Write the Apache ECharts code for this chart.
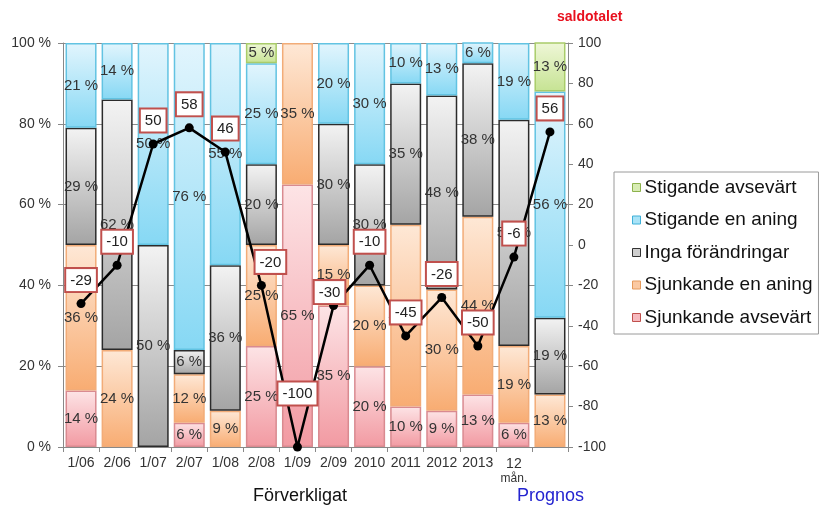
<!DOCTYPE html>
<html>
<head>
<meta charset="utf-8">
<script src="https://cdn.jsdelivr.net/npm/echarts@6/dist/echarts.min.js"></script>
<style>
  html, body { margin: 0; padding: 0; background: #fff; }
  #chart { width: 824px; height: 509px; }
</style>
</head>
<body>
<div id="chart"></div>
<script>
// Period labels (the last column is the forecast and has no label)
const categories = ['1/06', '2/06', '1/07', '2/07', '1/08', '2/08', '1/09', '2/09',
  '2010', '2011', '2012', '2013', '12\nmån.', ''];

// Share of answers (%) per period, bottom to top of each stack
const sjunkandeAvsevart = [14, 0, 0, 6, 0, 25, 65, 35, 20, 10, 9, 13, 6, 0];
const sjunkandeEnAning  = [36, 24, 0, 12, 9, 25, 35, 15, 20, 45, 30, 44, 19, 13];
const ingaForandringar  = [29, 62, 50, 6, 36, 20, 0, 30, 30, 35, 48, 38, 56, 19];
const stigandeEnAning   = [21, 14, 50, 76, 55, 25, 0, 20, 30, 10, 13, 6, 19, 56];
const stigandeAvsevart  = [0, 0, 0, 0, 0, 5, 0, 0, 0, 0, 0, 0, 0, 13];

// Balance figure (saldotalet), right axis
const saldotalet = [-29, -10, 50, 58, 46, -20, -100, -30, -10, -45, -26, -50, -6, 56];

// Axis tick labels
const leftTicks = [0, 20, 40, 60, 80, 100];
const rightTicks = [-100, -80, -60, -40, -20, 0, 20, 40, 60, 80, 100];

// Label nudges for a few balance boxes [dx, dy]
const labelNudge = { 5: [9, 0], 6: [0, -30], 7: [-4, 10] };

const FONT = 'Liberation Sans, Arial, sans-serif';

const grad = (top, bottom) => ({
  type: 'linear', x: 0, y: 0, x2: 0, y2: 1,
  colorStops: [{ offset: 0, color: top }, { offset: 1, color: bottom }]
});

const seriesDefs = [
  { name: 'Sjunkande avsevärt', data: sjunkandeAvsevart, fill: grad('#fde4e6', '#f29aa2'), border: '#d98a90', icon: '#f6b9be', iconBorder: '#c0504d' },
  { name: 'Sjunkande en aning', data: sjunkandeEnAning, fill: grad('#fee8d6', '#f8ac72'), border: '#f2ac78', icon: '#fbc9a2', iconBorder: '#e59a5c' },
  { name: 'Inga förändringar', data: ingaForandringar, fill: grad('#f3f3f3', '#a4a4a4'), border: '#2b2b2b', icon: '#cfcfcf', iconBorder: '#333' },
  { name: 'Stigande en aning', data: stigandeEnAning, fill: grad('#e2f5fd', '#86d8f4'), border: '#62c3e2', icon: '#a9e3f7', iconBorder: '#3fb0d8' },
  { name: 'Stigande avsevärt', data: stigandeAvsevart, fill: grad('#eff7d8', '#c6e393'), border: '#a9cc6a', icon: '#d8ecb4', iconBorder: '#8db24c' }
];

const barSeries = seriesDefs.map(d => ({
  name: d.name,
  type: 'bar',
  stack: 'andel',
  yAxisIndex: 0,
  barCategoryGap: '14%',
  data: d.data.map(v => (v === 0 ? '-' : v)),
  itemStyle: { color: d.fill, borderColor: d.border, borderWidth: 1.5 },
  label: {
    show: true,
    position: 'inside',
    formatter: p => p.value + ' %',
    fontFamily: FONT,
    fontSize: 15,
    color: '#333'
  },
  emphasis: { disabled: true }
}));

const lineData = saldotalet.map((v, i) => {
  const item = { value: v };
  if (labelNudge[i]) item.label = { offset: labelNudge[i] };
  return item;
});

const chart = echarts.init(document.getElementById('chart'), null, { renderer: 'canvas' });

chart.setOption({
  animation: false,
  backgroundColor: '#fff',
  textStyle: { fontFamily: FONT },
  grid: { left: 63, right: 256, top: 43, bottom: 62 },
  legend: {
    orient: 'vertical',
    left: 614,
    top: 172,
    padding: [6, 6, 7, 18],
    itemGap: 13.5,
    itemWidth: 8,
    itemHeight: 8,
    borderColor: '#9a9a9a',
    borderWidth: 1,
    backgroundColor: '#fff',
    textStyle: { fontSize: 19, color: '#111', fontFamily: FONT, padding: [0, 0, 0, -1] },
    data: seriesDefs.slice().reverse().map(d => ({
      name: d.name,
      icon: 'rect',
      itemStyle: { color: d.icon, borderColor: d.iconBorder, borderWidth: 1 }
    }))
  },
  xAxis: {
    type: 'category',
    data: categories,
    axisLine: { lineStyle: { color: '#888', width: 1 } },
    axisTick: { show: true, alignWithLabel: false, length: 5, lineStyle: { color: '#888' } },
    axisLabel: {
      interval: 0,
      color: '#333',
      fontSize: 14,
      margin: 9,
      formatter: v => v.indexOf('\n') >= 0 ? '{a|12}\n{b|mån.}' : v,
      rich: { a: { fontSize: 14, color: '#333', lineHeight: 16 }, b: { fontSize: 12, color: '#333', lineHeight: 14 } }
    }
  },
  yAxis: [
    {
      type: 'value',
      min: 0, max: 100, interval: 20,
      axisLine: { show: true, lineStyle: { color: '#888' } },
      axisTick: { show: true, length: 5, lineStyle: { color: '#888' } },
      axisLabel: {
        color: '#333', fontSize: 14, margin: 12,
        formatter: v => (leftTicks.indexOf(v) >= 0 ? v + ' %' : '')
      },
      splitLine: { show: true, lineStyle: { color: '#8c8c8c', width: 1 } }
    },
    {
      type: 'value',
      min: -100, max: 100, interval: 20,
      position: 'right',
      axisLine: { show: true, lineStyle: { color: '#888' } },
      axisTick: { show: true, length: 5, lineStyle: { color: '#888' } },
      axisLabel: {
        color: '#333', fontSize: 14, margin: 10,
        formatter: v => (rightTicks.indexOf(v) >= 0 ? String(v) : '')
      },
      splitLine: { show: false }
    }
  ],
  series: barSeries.concat([{
    name: 'saldotalet',
    type: 'line',
    yAxisIndex: 1,
    data: lineData,
    symbol: 'circle',
    symbolSize: 9,
    z: 10,
    clip: false,
    lineStyle: { color: '#000', width: 2.5 },
    itemStyle: { color: '#000' },
    label: {
      show: true,
      position: 'top',
      distance: 8,
      color: '#222',
      fontFamily: FONT,
      fontSize: 15,
      backgroundColor: '#fff',
      borderColor: '#c0504d',
      borderWidth: 2,
      padding: [4, 4, 3, 4]
    },
    emphasis: { disabled: true }
  }]),
  graphic: [
    {
      type: 'text', left: 557, top: 10,
      style: { text: 'saldotalet', fontSize: 14, fontWeight: 'bold', fill: '#e8101e', fontFamily: FONT }
    },
    {
      type: 'text', left: 253, top: 487,
      style: { text: 'Förverkligat', fontSize: 18, fill: '#111', fontFamily: FONT }
    },
    {
      type: 'text', left: 517, top: 487,
      style: { text: 'Prognos', fontSize: 18, fill: '#2424d0', fontFamily: FONT }
    }
  ]
});
</script>
</body>
</html>
